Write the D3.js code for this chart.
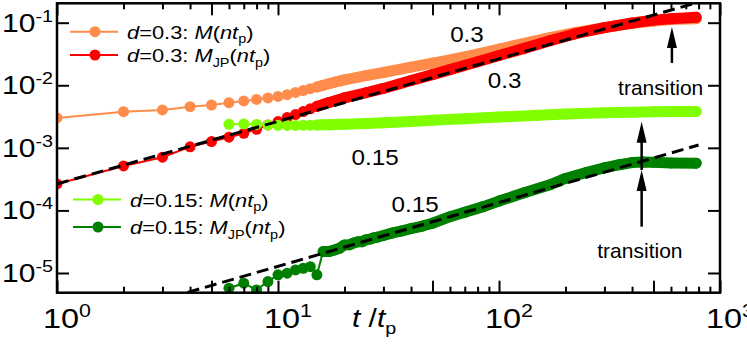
<!DOCTYPE html>
<html>
<head>
<meta charset="utf-8">
<script src="https://cdn.jsdelivr.net/npm/d3@7"></script>
<style>
  body { margin: 0; background: #fff; }
  svg { display: block; }
  text { font-family: "Liberation Sans", Arial, sans-serif; white-space: pre; }
</style>
</head>
<body>
<svg id="chart" width="747" height="344"></svg>
<script>
// values, t in units of t_p
const tOrange = [1,2,3,4,5,6,7,8,9,10,11,12,13,14,15,16,17,18,19,20,25,30,40,50,60,80,100,130,170,220,300,400,500,600,780];
const mOrange = [3.01e-3,3.78e-3,4.03e-3,4.55e-3,4.84e-3,5.27e-3,5.62e-3,5.93e-3,6.27e-3,6.62e-3,7.08e-3,7.67e-3,8.22e-3,8.81e-3,9.4e-3,1.0e-2,1.06e-2,1.12e-2,1.17e-2,1.22e-2,1.43e-2,1.6e-2,1.95e-2,2.26e-2,2.54e-2,3.16e-2,3.8e-2,4.68e-2,5.75e-2,6.92e-2,8.32e-2,9.77e-2,0.106,0.112,0.116];

const tRed = [1,2,3,4,5,6,7,8,9,10,11,12,13,14,15,16,17,18,19,20,25,30,40,50,60,80,100,130,170,220,300,400,500,600,780];
const mRed = [2.65e-4,5.14e-4,7.08e-4,1.04e-3,1.26e-3,1.48e-3,1.71e-3,1.98e-3,2.32e-3,2.63e-3,3.05e-3,3.4e-3,3.8e-3,4.2e-3,4.6e-3,4.95e-3,5.3e-3,5.6e-3,5.95e-3,6.3e-3,7.6e-3,8.9e-3,1.19e-2,1.48e-2,1.78e-2,2.37e-2,2.99e-2,3.89e-2,5.13e-2,6.61e-2,8.32e-2,9.89e-2,0.11,0.116,0.122];

const tLime = [6,7,8,9,10,11,12,13,14,15,16,17,18,19,20,25,30,40,50,70,100,150,200,300,400,500,600,780];
const mLime = [2.38e-3,2.41e-3,2.37e-3,2.32e-3,2.29e-3,2.28e-3,2.28e-3,2.29e-3,2.3e-3,2.32e-3,2.33e-3,2.34e-3,2.36e-3,2.38e-3,2.39e-3,2.44e-3,2.51e-3,2.64e-3,2.75e-3,2.92e-3,3.1e-3,3.31e-3,3.47e-3,3.63e-3,3.72e-3,3.78e-3,3.8e-3,3.82e-3];

const tGreen = [6,7,8,9,10,11,12,13,14,15,16,17,18,19,20,21,22,23,24,25,26,27,28,30,33,36,40,45,50,60,70,85,100,130,170,200,250,300,350,400,450,500,600,780];
const mGreen = [5.71e-6,6.87e-6,5.37e-6,7.3e-6,9.33e-6,9.93e-6,1.12e-5,1.19e-5,1.26e-5,9.33e-6,2.2e-5,2.2e-5,2.34e-5,2.49e-5,2.81e-5,2.82e-5,3.02e-5,3.16e-5,3.16e-5,3.39e-5,3.47e-5,3.63e-5,3.72e-5,3.98e-5,4.37e-5,4.68e-5,5.13e-5,5.62e-5,6.24e-5,7.94e-5,9.33e-5,1.15e-4,1.41e-4,1.91e-4,2.57e-4,3.24e-4,4.07e-4,4.79e-4,5.37e-4,5.82e-4,5.92e-4,5.86e-4,5.75e-4,5.69e-4];

// dashed power-law guides (slope ~1)
const fitT1 = [1, 800];
const fitM1 = [2.65e-4, 0.212];
const fitT2 = [3.9, 800];
const fitM2 = [4.9e-6, 1.11e-3];

const xTickValues = [1, 10, 100, 1000];
const yTickValues = [1e-5, 1e-4, 1e-3, 1e-2, 1e-1];
const xTickLabels = ['0', '1', '2', '3'];
const yTickLabels = ['-5', '-4', '-3', '-2', '-1'];

// bandFrom: where the markers start to merge into a solid band
const series = [
  { t: tOrange, m: mOrange, color: '#ff8c4b', bandFrom: 15 },
  { t: tRed, m: mRed, color: '#ff0000', bandFrom: 15 },
  { t: tLime, m: mLime, color: '#80ff00', bandFrom: 15 },
  { t: tGreen, m: mGreen, color: '#008000', bandFrom: 16 }
];

const plotL = 57, plotR = 720, plotT = 3.3, plotB = 292.7;

const svg = d3.select('#chart');
const x = d3.scaleLog().domain([1, 1000]).range([plotL, plotR]);
const y = d3.scaleLog().domain([Math.pow(10, -5.315), Math.pow(10, -0.69)]).range([plotB, plotT]);

svg.append('defs').append('clipPath').attr('id', 'plotclip')
  .append('rect').attr('x', plotL).attr('y', plotT).attr('width', plotR - plotL).attr('height', plotB - plotT);

// text with italic / sub / sup pieces, stretched a bit wider like the source
function richText(parent, px, py, parts, size, anchor, sx) {
  const t = parent.append('text')
    .attr('transform', `translate(${px},${py}) scale(${sx || 1.15},1)`)
    .attr('font-size', size)
    .attr('text-anchor', anchor || 'start');
  let shift = 0;
  parts.forEach(p => {
    const s = p[1] === 'sub' ? 0.25 * size : p[1] === 'sup' ? -0.4 * size : 0;
    const ts = t.append('tspan').text(p[0]).attr('dy', s - shift);
    shift = s;
    if (p[1] === 'sub' || p[1] === 'sup') ts.attr('font-size', size * 0.66);
    if (p[1] === 'i') ts.attr('font-style', 'italic');
  });
  return t;
}

// data
const plot = svg.append('g').attr('clip-path', 'url(#plotclip)');
const line = d3.line().x(d => x(d[0])).y(d => y(d[1]));

series.forEach(s => {
  const pts = s.t.map((t, i) => [t, s.m[i]]);
  plot.append('path').attr('d', line(pts))
    .attr('fill', 'none').attr('stroke', s.color).attr('stroke-width', 2);
  plot.append('path').attr('d', line(pts.filter(d => d[0] >= s.bandFrom)))
    .attr('fill', 'none').attr('stroke', s.color).attr('stroke-width', 11)
    .attr('stroke-linecap', 'round').attr('stroke-linejoin', 'round');
  plot.selectAll(null).data(pts).enter().append('circle')
    .attr('cx', d => x(d[0])).attr('cy', d => y(d[1])).attr('r', 5.5)
    .attr('fill', s.color);
});

[[fitT1, fitM1], [fitT2, fitM2]].forEach(f => {
  plot.append('path').attr('d', line(f[0].map((t, i) => [t, f[1][i]])))
    .attr('fill', 'none').attr('stroke', '#000').attr('stroke-width', 3)
    .attr('stroke-dasharray', '12,6');
});

// axes, ticks pointing inward
const minorX = [];
for (let d = 1; d < 1000; d *= 10) for (let k = 2; k <= 9; k++) if (k !== 5) minorX.push(d * k);
const midX = [5, 50, 500];

function xAxes(vals, len) {
  svg.append('g').attr('transform', `translate(0,${plotB})`)
    .call(d3.axisBottom(x).tickValues(vals).tickSizeInner(-len).tickSizeOuter(0).tickFormat(''));
  svg.append('g').attr('transform', `translate(0,${plotT})`)
    .call(d3.axisTop(x).tickValues(vals).tickSizeInner(-len).tickSizeOuter(0).tickFormat(''));
}
xAxes(xTickValues.concat(midX), 12);
xAxes(minorX, 6);
svg.append('g').attr('transform', `translate(${plotL},0)`)
  .call(d3.axisLeft(y).tickValues(yTickValues).tickSizeInner(-12).tickSizeOuter(0).tickFormat(''));
svg.append('g').attr('transform', `translate(${plotR},0)`)
  .call(d3.axisRight(y).tickValues(yTickValues).tickSizeInner(-12).tickSizeOuter(0).tickFormat(''));
svg.selectAll('.domain').remove();
svg.selectAll('.tick line').attr('stroke', '#000').attr('stroke-width', 2);

svg.append('rect').attr('x', plotL).attr('y', plotT)
  .attr('width', plotR - plotL).attr('height', plotB - plotT)
  .attr('fill', 'none').attr('stroke', '#000').attr('stroke-width', 2.5);

// tick labels
xTickValues.forEach((v, i) => {
  richText(svg, x(v) - 14, 328, [['10'], [xTickLabels[i], 'sup']], 27, 'start', 1.2);
});
yTickValues.forEach((v, i) => {
  richText(svg, 53, y(v) + 9, [['10'], [yTickLabels[i], 'sup']], 25, 'end', 1.2);
});

richText(svg, 352, 327, [['t', 'i'], [' /'], ['t', 'i'], ['p', 'sub']], 26, 'start', 1.15);

// annotations
const g = svg.append('g');
richText(g, x(71.6), y(0.0492), [['0.3']], 22, 'middle', 1.1);
richText(g, x(106), y(9.04e-3), [['0.3']], 22, 'middle', 1.1);
richText(g, x(27.5), y(5.3e-4), [['0.15']], 22, 'middle', 1.1);
richText(g, x(41.7), y(9.4e-5), [['0.15']], 22, 'middle', 1.1);
richText(g, x(539), y(7.0e-3), [['transition']], 21, 'middle', 1.0);
richText(g, x(434), y(1.74e-5), [['transition']], 21, 'middle', 1.0);

function arrow(t, m0, m1) {
  const ax = x(t), y0 = y(m0), y1 = y(m1);
  g.append('line').attr('x1', ax).attr('x2', ax).attr('y1', y0).attr('y2', y1 + 15)
    .attr('stroke', '#000').attr('stroke-width', 2.5);
  g.append('path').attr('d', `M${ax},${y1}L${ax - 5},${y1 + 21}L${ax + 5},${y1 + 21}Z`).attr('fill', '#000');
}
arrow(606, 0.0227, 0.0853);
arrow(442, 5.5e-5, 4.43e-4);
arrow(442, 4.43e-4, 2.62e-3);

// legends
function legendRow(lx, ly, color, parts) {
  g.append('line').attr('x1', lx).attr('x2', lx + 48).attr('y1', ly).attr('y2', ly)
    .attr('stroke', color).attr('stroke-width', 2);
  g.append('circle').attr('cx', lx + 25).attr('cy', ly).attr('r', 5.5).attr('fill', color);
  richText(g, lx + 57, ly + 7, parts, 19, 'start', 1.15);
}
legendRow(70, 31.7, series[0].color, [['d', 'i'], ['=0.3: '], ['M', 'i'], ['('], ['nt', 'i'], ['p', 'sub'], [')']]);
legendRow(70, 55, series[1].color, [['d', 'i'], ['=0.3: '], ['M', 'i'], ['JP', 'sub'], ['('], ['nt', 'i'], ['p', 'sub'], [')']]);
legendRow(73, 199.5, series[2].color, [['d', 'i'], ['=0.15: '], ['M', 'i'], ['('], ['nt', 'i'], ['p', 'sub'], [')']]);
legendRow(73, 227, series[3].color, [['d', 'i'], ['=0.15: '], ['M', 'i'], ['JP', 'sub'], ['('], ['nt', 'i'], ['p', 'sub'], [')']]);
</script>
</body>
</html>
